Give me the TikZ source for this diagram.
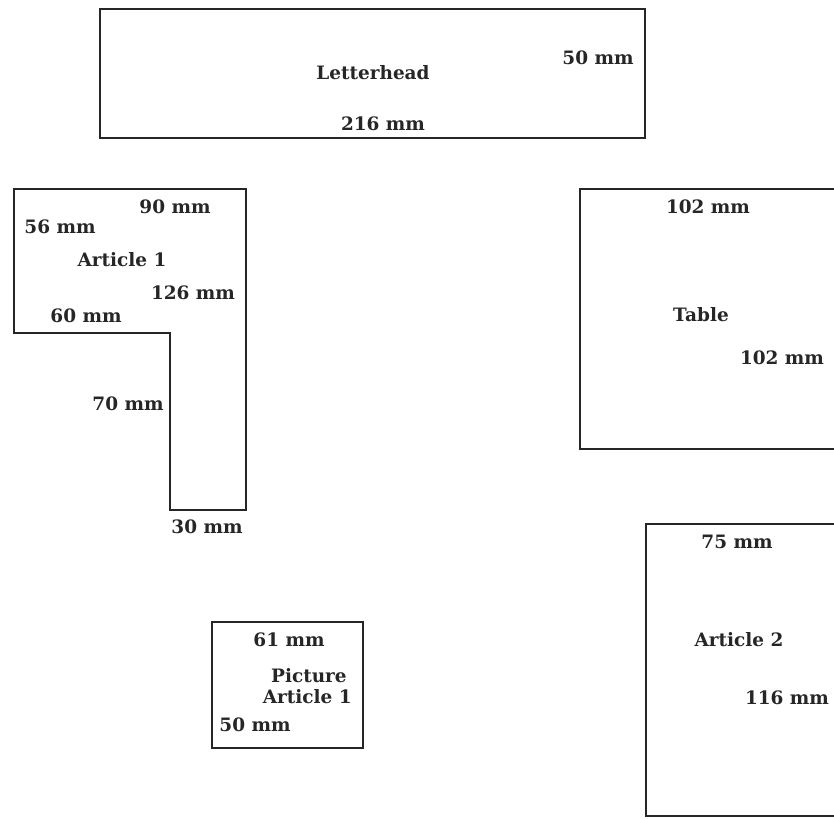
\documentclass[tikz,border=0pt]{standalone}
\usepackage{fontspec}
\setmainfont{DejaVu Serif}
\usetikzlibrary{positioning}
\tikzset{>=stealth}
\tikzset{
  lbl/.style={inner sep=0pt, text=black!85, font=\fontsize{10.5}{12}\selectfont\bfseries},
  outline/.style={line width=1pt, draw=black!85}
}

\begin{document}
\begin{tikzpicture}[x=0.02cm, y=-0.02cm]
      \useasboundingbox (0, 0) rectangle (834, 818);

      % letterhead
      \draw [outline] (100, 9) rectangle (645, 138);
      \node (lh) at (373, 73) [lbl] {Letterhead};
      \node (lhw) at (383, 124) [lbl] {216 mm};
      \node (lhh) at (598, 58) [lbl] {50 mm};

      % article 1
      \draw [outline] (14, 189) -- (246, 189) -- (246, 510) -- (170, 510)
            -- (170, 333) -- (14, 333) -- cycle;
      \node (aa) at (175, 207) [lbl] {90 mm};
      \node (ab) at (60, 227) [lbl] {56 mm};
      \node (ac) at (122, 260) [lbl] {Article 1};
      \node (ad) at (193, 293) [lbl] {126 mm};
      \node (ae) at (86, 316) [lbl] {60 mm};
      \node (af) at (128, 404) [lbl] {70 mm};
      \node (ag) at (207, 527) [lbl] {30 mm};

      % table
      \draw [outline] (834, 189) -| (580, 449) -- (834, 449);
      \node (ta) at (708, 207) [lbl] {102 mm};
      \node (tb) at (701, 315) [lbl] {Table};
      \node (tc) at (782, 358) [lbl] {102 mm};

      % article 2
      \draw [outline] (834, 524) -| (646, 816) -- (834, 816);
      \node (ba) at (737, 542) [lbl] {75 mm};
      \node (bb) at (739, 640) [lbl] {Article 2};
      \node (bc) at (787, 698) [lbl] {116 mm};

      % picture
      \draw [outline] (212, 622) rectangle (363, 748);
      \node (pa) at (289, 640) [lbl] {61 mm};
      \node (pb) at (347, 676) [lbl, anchor=east] {Picture};
      \node (pc) at (352, 697) [lbl, anchor=east] {Article 1};
      \node (pd) at (255, 725) [lbl] {50 mm};
    \end{tikzpicture}
\end{document}
